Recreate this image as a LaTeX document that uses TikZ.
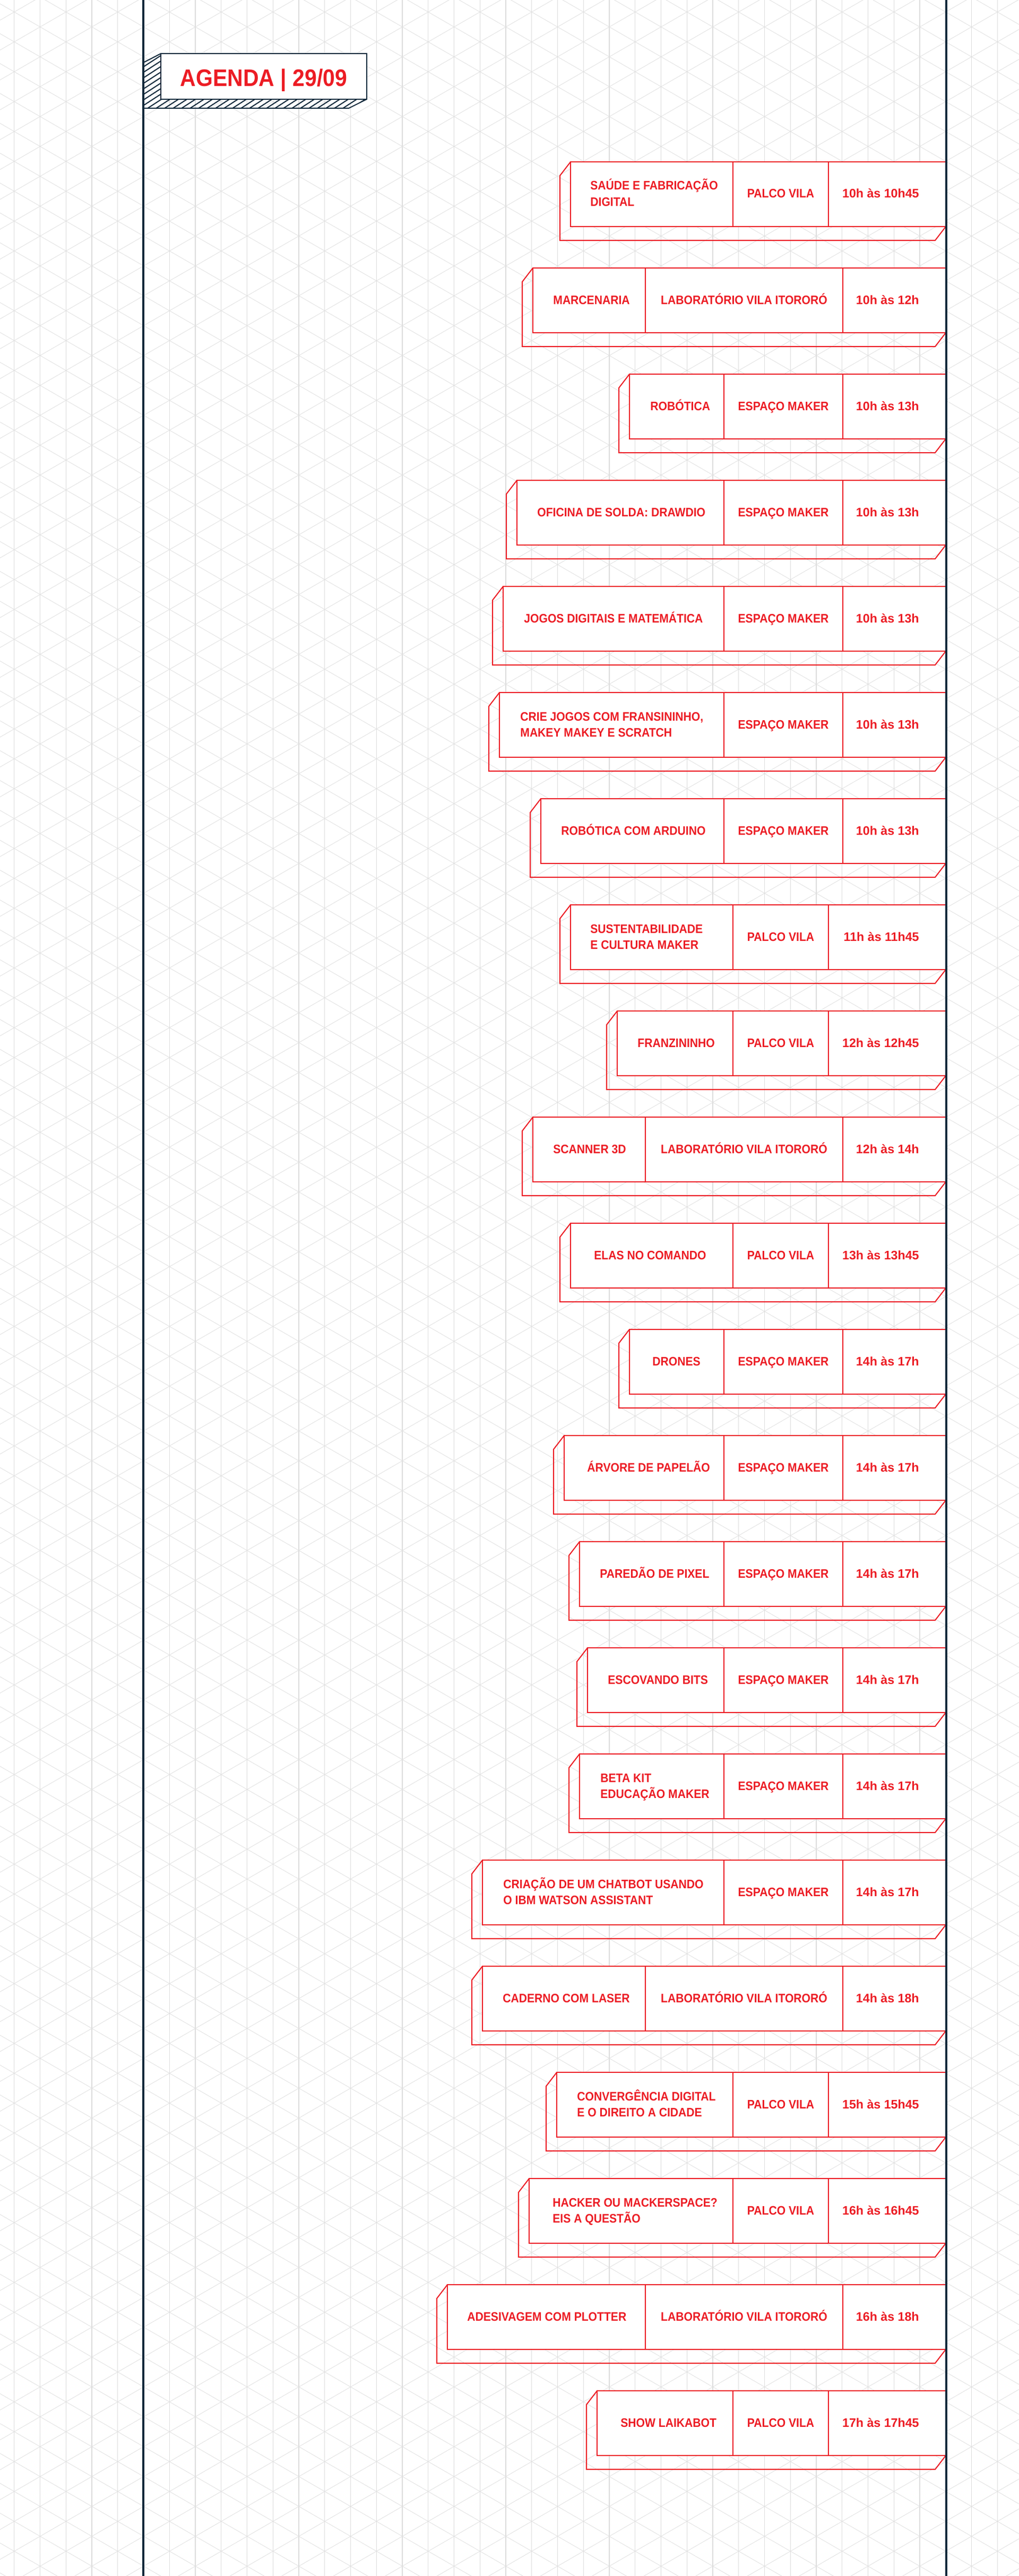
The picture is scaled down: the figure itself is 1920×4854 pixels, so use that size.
\documentclass[tikz,border=0pt]{standalone}
\usepackage{fontspec}
\setmainfont{Liberation Sans}
\newfontfamily\agendafont{Liberation Sans}[FakeStretch=0.91]
\usepackage{xcolor}
\usetikzlibrary{calc}
\definecolor{agred}{HTML}{EC1C24}
\definecolor{agnavy}{HTML}{12293B}
\definecolor{gridgray}{HTML}{DCDCDC}

\begin{document}
\begin{tikzpicture}[x=0.5pt, y=-0.5pt,
  gridv/.style={gridgray, line width=0.65pt},
  gridd/.style={gridgray!85, line width=0.45pt},
  rail/.style={agnavy, line width=2.1pt},
  hatch/.style={agnavy, line width=1pt},
  front/.style={agred, line width=1pt, fill=white},
  back/.style={agred, line width=1pt},
  divider/.style={agred, line width=1pt},
  cell/.style={agred, inner sep=0pt,
    font=\agendafont\bfseries\fontsize{11.6}{15}\selectfont},
  timecell/.style={cell, font=\bfseries\fontsize{11.6}{15}\selectfont}
]
\useasboundingbox (0,0) rectangle (1920,4854);
% ── Isometric grid ───────────────────────────────
\begin{scope}
  \clip (0,0) rectangle (1920,4854);
  \foreach \i in {0,...,38}
    \draw[gridv] (26.8+48.75*\i,0) -- (26.8+48.75*\i,4854);
  \foreach \k in {-20,...,86}
    \draw[gridd] (0,7.1+56.29*\k) -- (1920,1115.6+56.29*\k);
  \foreach \k in {0,...,106}
    \draw[gridd] (0,38.1+56.29*\k) -- (1920,-1070.4+56.29*\k);
\end{scope}
% ── Left rail ────────────────────────────────────
\draw[rail] (270,0) -- (270,4854);
% ── Header ───────────────────────────────────────
\begin{scope}
  \clip (303,101) -- (270,118) -- (270,204) -- (657,204) -- (691,187)
    -- (303,187) -- cycle;
  \foreach \c in {260,270.4,...,670}
    \draw[hatch] (250,\c-162.5) -- (710,\c-461.5);
\end{scope}
\draw[hatch] (303,101) -- (270,118) -- (270,204) -- (657,204) -- (691,187);
\draw[hatch, fill=white] (303,101) rectangle (691,187);
\node[agred, inner sep=0pt, anchor=base,
  font=\agendafont\bfseries\fontsize{22.5}{27}\selectfont]
  (agenda) at (497,163) {AGENDA | 29/09};
% ── Rows ─────────────────────────────────────────
\foreach \k/\L/\tx/\by/\da/\db/\desc/\place/\time in {
  0/1075/1112/83/1381/1561/{SAÚDE E FABRICAÇÃO\\DIGITAL}/PALCO VILA/10h às 10h45,
  1/1004/1042/68/1216/1588/MARCENARIA/LABORATÓRIO VILA ITORORÓ/10h às 12h,
  2/1186/1225/68/1364/1588/ROBÓTICA/ESPAÇO MAKER/10h às 13h,
  3/974/1012/68/1364/1588/OFICINA DE SOLDA: DRAWDIO/ESPAÇO MAKER/10h às 13h,
  4/948/987/68/1364/1588/JOGOS DIGITAIS E MATEMÁTICA/ESPAÇO MAKER/10h às 13h,
  5/941/980/83/1364/1588/{CRIE JOGOS COM FRANSININHO,\\MAKEY MAKEY E SCRATCH}/ESPAÇO MAKER/10h às 13h,
  6/1019/1057/68/1364/1588/ROBÓTICA COM ARDUINO/ESPAÇO MAKER/10h às 13h,
  7/1075/1112/83/1381/1561/{SUSTENTABILIDADE\\E CULTURA MAKER}/PALCO VILA/11h às 11h45,
  8/1163/1201/68/1381/1561/FRANZININHO/PALCO VILA/12h às 12h45,
  9/1004/1042/68/1216/1588/SCANNER 3D/LABORATÓRIO VILA ITORORÓ/12h às 14h,
  10/1075/1119/68/1381/1561/ELAS NO COMANDO/PALCO VILA/13h às 13h45,
  11/1186/1229/68/1364/1588/DRONES/ESPAÇO MAKER/14h às 17h,
  12/1063/1106/68/1364/1588/ÁRVORE DE PAPELÃO/ESPAÇO MAKER/14h às 17h,
  13/1092/1130/68/1364/1588/PAREDÃO DE PIXEL/ESPAÇO MAKER/14h às 17h,
  14/1107/1145/68/1364/1588/ESCOVANDO BITS/ESPAÇO MAKER/14h às 17h,
  15/1092/1131/83/1364/1588/{BETA KIT\\EDUCAÇÃO MAKER}/ESPAÇO MAKER/14h às 17h,
  16/909/948/83/1364/1588/{CRIAÇÃO DE UM CHATBOT USANDO\\O IBM WATSON ASSISTANT}/ESPAÇO MAKER/14h às 17h,
  17/909/947/68/1216/1588/CADERNO COM LASER/LABORATÓRIO VILA ITORORÓ/14h às 18h,
  18/1049/1087/83/1381/1561/{CONVERGÊNCIA DIGITAL\\E O DIREITO A CIDADE}/PALCO VILA/15h às 15h45,
  19/997/1041/83/1381/1561/{HACKER OU MACKERSPACE?\\EIS A QUESTÃO}/PALCO VILA/16h às 16h45,
  20/843/880/68/1216/1588/ADESIVAGEM COM PLOTTER/LABORATÓRIO VILA ITORORÓ/16h às 18h,
  21/1125/1169/68/1381/1561/SHOW LAIKABOT/PALCO VILA/17h às 17h45} {
  \pgfmathsetmacro\T{305+200*\k}
  \pgfmathsetmacro\B{\T+122}
  \draw[back] (\L,\T) -- (\L-20,\T+26) -- (\L-20,\B+26) -- (1762,\B+26) -- (1782,\B);
  \draw[front] (\L,\T) rectangle (1782,\B);
  \draw[divider] (\da,\T) -- (\da,\B) (\db,\T) -- (\db,\B);
  \node[cell, anchor=base west, align=left] (desc-\k) at (\tx,\T+\by) {\desc};
  \node[cell, anchor=base] (place-\k) at ({(\da+\db)/2},\T+68) {\place};
  \node[timecell, anchor=base east] (time-\k) at (1732,\T+68) {\time};
}
% ── Right rail ───────────────────────────────────
\draw[rail] (1783,0) -- (1783,4854);
\end{tikzpicture}
\end{document}
